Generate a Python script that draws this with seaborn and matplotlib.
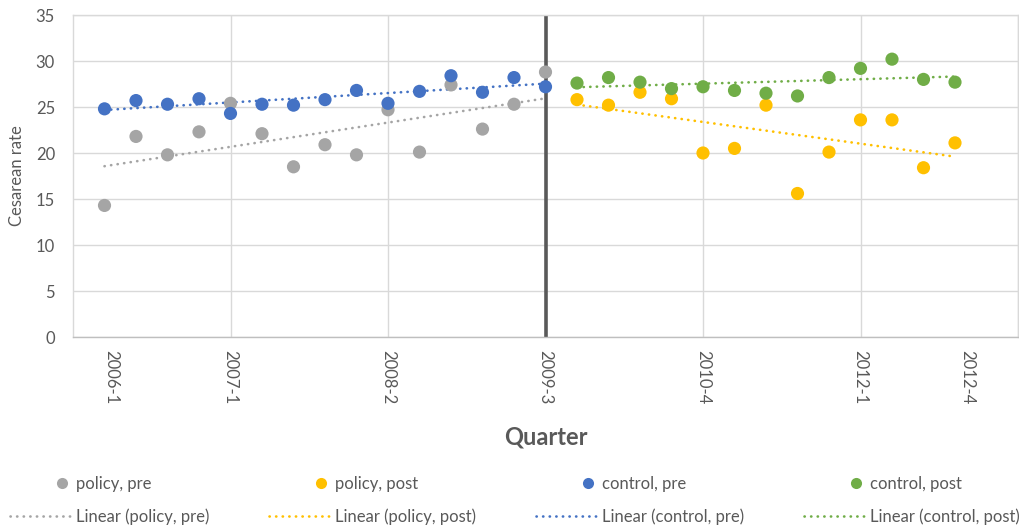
import numpy as np
import pandas as pd
import matplotlib
matplotlib.use("Agg")
import matplotlib.pyplot as plt
from matplotlib.lines import Line2D
from matplotlib.legend_handler import HandlerLine2D
import seaborn as sns

# Quarterly cesarean rates, 2006-1 .. 2012-4 (quarter index 0..27)
pre_quarters = list(range(0, 15))
post_quarters = list(range(15, 28))

policy_pre = [14.3, 21.8, 19.8, 22.3, 25.4, 22.1, 18.5, 20.9, 19.8, 24.7,
              20.1, 27.4, 22.6, 25.3, 28.8]
control_pre = [24.8, 25.7, 25.3, 25.9, 24.3, 25.3, 25.2, 25.8, 26.8, 25.4,
               26.7, 28.4, 26.6, 28.2, 27.2]
policy_post = [25.8, 25.2, 26.6, 25.9, 20.0, 20.5, 25.2, 15.6, 20.1, 23.6,
               23.6, 18.4, 21.1]
control_post = [27.6, 28.2, 27.7, 27.0, 27.2, 26.8, 26.5, 26.2, 28.2, 29.2,
                30.2, 28.0, 27.7]

tick_labels = ["2006-1", "2007-1", "2008-2", "2009-3", "2010-4", "2012-1", "2012-4"]
tick_positions = [0.2, 4, 9, 14, 19, 24, 27.4]
policy_start = 14

groups = ["policy, pre", "policy, post", "control, pre", "control, post"]
colors = {"policy, pre": "#A5A5A5", "policy, post": "#FFC000",
          "control, pre": "#4472C4", "control, post": "#70AD47"}

df = pd.concat([
    pd.DataFrame({"quarter": pre_quarters, "rate": policy_pre, "group": "policy, pre"}),
    pd.DataFrame({"quarter": post_quarters, "rate": policy_post, "group": "policy, post"}),
    pd.DataFrame({"quarter": pre_quarters, "rate": control_pre, "group": "control, pre"}),
    pd.DataFrame({"quarter": post_quarters, "rate": control_post, "group": "control, post"}),
], ignore_index=True)

sns.set_theme(style="white")
plt.rcParams["font.family"] = ["Lato", "DejaVu Sans"]
text_color = "#595959"
grid_color = "#D9D9D9"

fig = plt.figure(figsize=(10.19, 5.31), dpi=100)
ax = fig.add_axes([73 / 1019, 1 - 337 / 531, (1018 - 73) / 1019, (337 - 15) / 531])

# horizontal + vertical gridlines
for y in range(0, 36, 5):
    ax.axhline(y, color=grid_color, lw=1.0, zorder=0)
for x in [4, 9, 19, 24, 29]:
    ax.axvline(x, color=grid_color, lw=1.0, zorder=0)

# policy change marker
ax.axvline(policy_start, color="#595959", lw=2.6, zorder=1)

dot_style = (0, (0.1, 2.4))
for g in groups:
    sub = df[df["group"] == g]
    sns.regplot(data=sub, x="quarter", y="rate", ax=ax, scatter=False, ci=None,
                truncate=True,
                line_kws=dict(color=colors[g], lw=1.9, linestyle=dot_style,
                              dash_capstyle="round", zorder=2))

sns.scatterplot(data=df, x="quarter", y="rate", hue="group", hue_order=groups,
                palette=colors, s=90, linewidth=0, ax=ax, legend=False, zorder=3)

ax.set_xlim(-1, 29)
ax.set_ylim(0, 35)
ax.set_yticks(range(0, 36, 5))
ax.set_xticks(tick_positions)
ax.set_xticklabels(tick_labels, rotation=-90)
ax.tick_params(axis="x", length=0, pad=9, labelsize=12, labelcolor=text_color)
ax.tick_params(axis="y", length=0, pad=13, labelsize=12, labelcolor=text_color)
for lab in ax.get_xticklabels():
    lab.set_va("top")

for side in ["left", "right", "top"]:
    ax.spines[side].set_color(grid_color)
    ax.spines[side].set_linewidth(1.0)
ax.spines["bottom"].set_color("#BFBFBF")
ax.spines["bottom"].set_linewidth(1.0)

ax.set_ylabel("Cesarean rate", fontsize=12, color=text_color, labelpad=8)
ax.set_xlabel("Quarter", fontsize=17, fontweight="bold", color=text_color, labelpad=16)


class RightMarkerHandler(HandlerLine2D):
    """Draw the single legend marker near the right end of the handle box."""

    def get_xdata(self, legend, xdescent, ydescent, width, height, fontsize):
        pos = -xdescent + 0.82 * width
        xdata = np.array([pos - 1.0, pos + 1.0])
        return xdata, np.array([pos])


# legend: dots on the first row, trend lines on the second
handles = []
labels = []
handler_map = {}
for g in groups:
    dot = Line2D([], [], marker="o", linestyle="none", markersize=8,
                 markerfacecolor=colors[g], markeredgewidth=0)
    handles.append(dot)
    handler_map[dot] = RightMarkerHandler(numpoints=1)
    labels.append(g)
    handles.append(Line2D([], [], color=colors[g], lw=1.9, linestyle=dot_style,
                          dash_capstyle="round"))
    labels.append(f"Linear ({g})")

fig.legend(handles, labels, ncol=4, loc="upper left",
           bbox_to_anchor=(0.0, 1 - 466 / 531), frameon=False,
           fontsize=12, labelcolor=text_color, handlelength=3.8,
           handletextpad=0.15, columnspacing=3.6, labelspacing=1.0,
           borderaxespad=0.2, handler_map=handler_map)

fig.savefig("out.png", dpi=100)
